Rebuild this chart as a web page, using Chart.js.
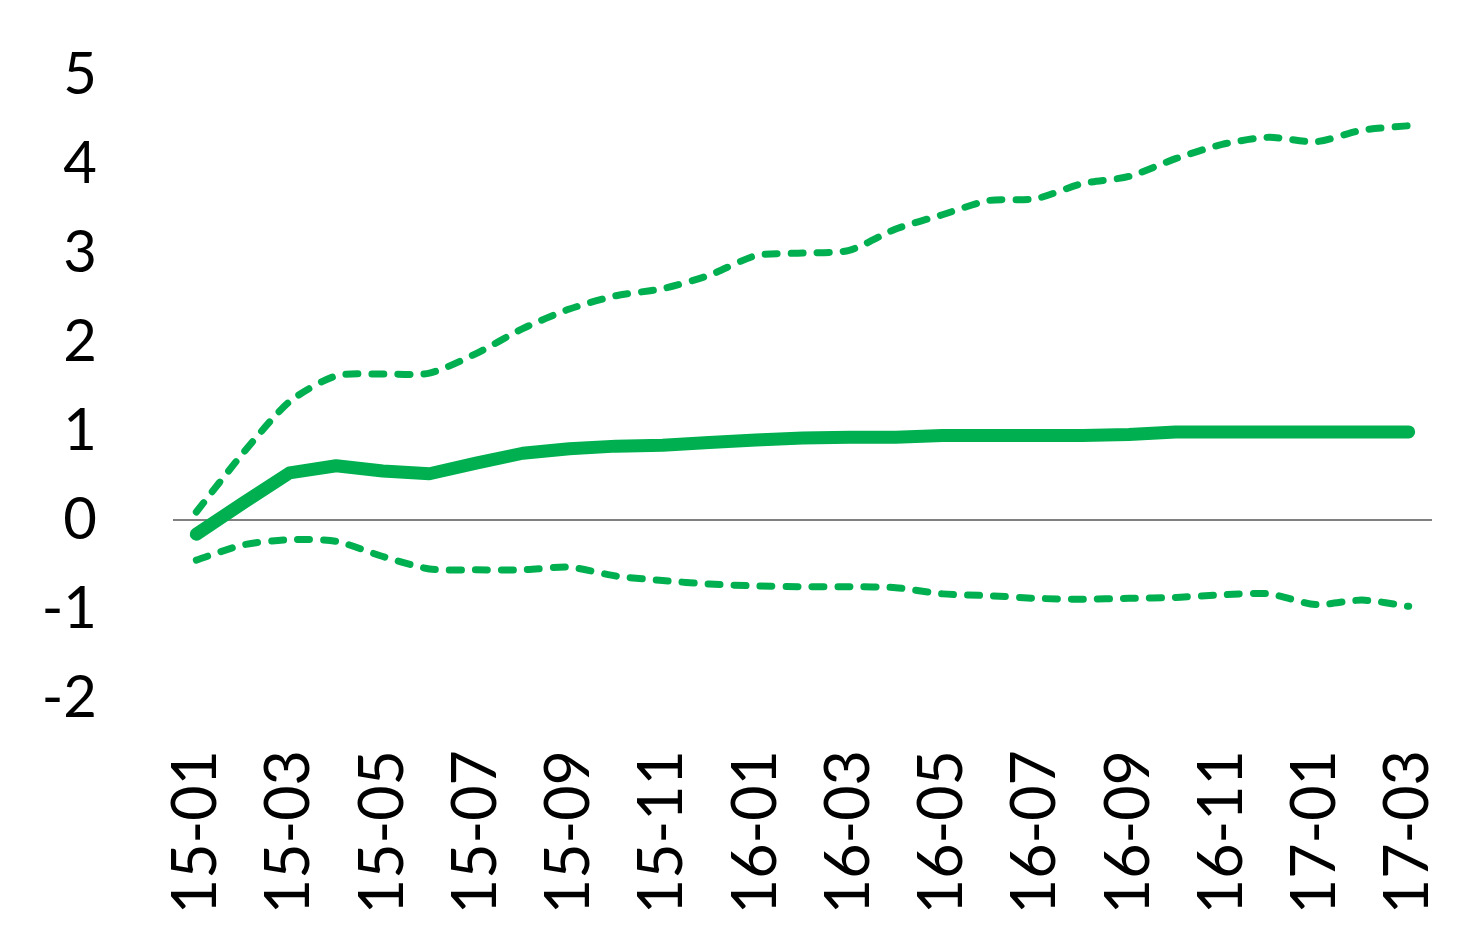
<!DOCTYPE html>
<html>
<head>
<meta charset="utf-8">
<script src="https://cdn.jsdelivr.net/npm/chart.js@4.4.1/dist/chart.umd.min.js"></script>
<style>
  html, body { margin: 0; padding: 0; background: #ffffff; }
  #wrap { width: 1482px; height: 947px; position: relative; }
</style>
</head>
<body>
<div id="wrap"><canvas id="c" width="1482" height="947"></canvas></div>
<script>
const months = ["15-01","15-02","15-03","15-04","15-05","15-06","15-07","15-08","15-09","15-10","15-11","15-12",
                "16-01","16-02","16-03","16-04","16-05","16-06","16-07","16-08","16-09","16-10","16-11","16-12",
                "17-01","17-02","17-03"];
const central = [-0.16, 0.19, 0.53, 0.61, 0.55, 0.52, 0.64, 0.75, 0.80, 0.83, 0.84, 0.87,
                 0.90, 0.92, 0.93, 0.93, 0.95, 0.95, 0.95, 0.95, 0.96, 0.99, 0.99, 0.99,
                 0.99, 0.99, 0.99];
const upper = [0.09, 0.75, 1.33, 1.62, 1.64, 1.65, 1.87, 2.15, 2.37, 2.52, 2.60, 2.75,
               2.97, 3.00, 3.03, 3.27, 3.43, 3.59, 3.61, 3.78, 3.86, 4.06, 4.22, 4.30,
               4.25, 4.38, 4.43];
const lower = [-0.45, -0.28, -0.22, -0.24, -0.41, -0.55, -0.56, -0.56, -0.53, -0.63, -0.68, -0.72,
               -0.74, -0.75, -0.75, -0.76, -0.83, -0.85, -0.88, -0.89, -0.88, -0.87, -0.84, -0.83,
               -0.95, -0.90, -0.97];
const yMin = -2, yMax = 5, yStep = 1;

const green = '#00B050';
const FONT = 'Lato, "Open Sans", sans-serif';

function zeroPad(s) { s.paddingLeft = 0; s.paddingRight = 0; s.paddingTop = 0; s.paddingBottom = 0; }

new Chart(document.getElementById('c'), {
  type: 'line',
  data: {
    labels: months,
    datasets: [
      { data: upper, borderColor: green, borderWidth: 7, borderDash: [12, 14],
        borderCapStyle: 'round', borderJoinStyle: 'round', pointRadius: 0, tension: 0.25, fill: false },
      { data: lower, borderColor: green, borderWidth: 7, borderDash: [12, 14],
        borderCapStyle: 'round', borderJoinStyle: 'round', pointRadius: 0, tension: 0.25, fill: false },
      { data: central, borderColor: green, borderWidth: 13,
        borderCapStyle: 'round', borderJoinStyle: 'round', pointRadius: 0, tension: 0, fill: false }
    ]
  },
  options: {
    responsive: false,
    animation: false,
    devicePixelRatio: 1,
    layout: { padding: { top: 75, right: 50, bottom: 0, left: 0 } },
    plugins: { legend: { display: false }, tooltip: { enabled: false } },
    scales: {
      x: {
        type: 'category',
        offset: true,
        border: { display: false },
        grid: { display: false, drawTicks: false },
        ticks: {
          autoSkip: false,
          maxRotation: 90, minRotation: 90,
          padding: 52,
          color: '#000000',
          font: { family: FONT, size: 61 },
          callback: function(v, i) { return i % 2 === 0 ? this.getLabelForValue(v) : ''; }
        },
        afterFit: function(s) { s.height = 249; zeroPad(s); }
      },
      y: {
        min: yMin, max: yMax,
        border: { display: false },
        grid: {
          drawTicks: false,
          lineWidth: 2,
          color: (ctx) => (ctx.tick && ctx.tick.value === 0) ? '#808080' : 'rgba(0,0,0,0)'
        },
        ticks: {
          stepSize: yStep,
          padding: 76,
          color: '#000000',
          font: { family: FONT, size: 58 }
        },
        afterFit: function(s) { s.width = 173; zeroPad(s); }
      }
    }
  }
});
</script>
</body>
</html>
